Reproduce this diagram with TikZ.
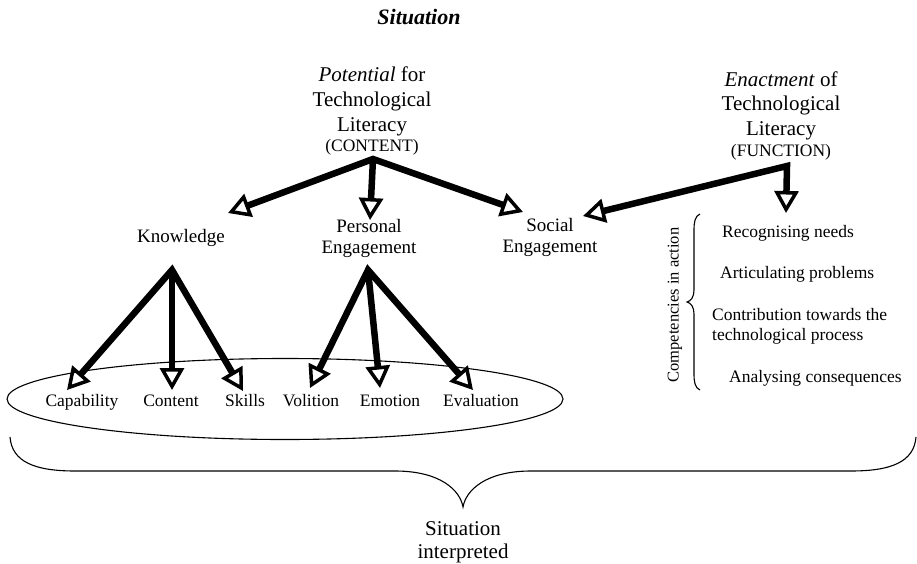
\documentclass[tikz,border=0pt]{standalone}
\usepackage{fontspec}
\setmainfont{Liberation Serif}
\usetikzlibrary{arrows.meta}
\begin{document}
\begin{tikzpicture}[x=1pt,y=-1pt,
  tipA/.tip={Triangle[open,length=22pt,width=24pt,line width=3.5pt]},
  bigarrow/.style={line width=6.5pt,line join=miter,-tipA},
  dblarrow/.style={line width=6.5pt,line join=miter,tipA-tipA},
  lab/.style={anchor=base,inner sep=0pt},
  fbig/.style={font=\fontsize{21}{25}\selectfont},
  fmid/.style={font=\fontsize{19}{23}\selectfont},
  fsml/.style={font=\fontsize{17.5}{21}\selectfont},
  thinline/.style={line width=1.1pt}]
\useasboundingbox (0,0) rectangle (917,564);

% title
\node[lab,font=\fontsize{22}{26}\selectfont\bfseries\itshape] (title) at (419,25) {Situation};

% Potential block
\node[lab,fbig] (pot1) at (372,82) {\textit{Potential} for};
\node[lab,fbig] (pot2) at (372,107) {Technological};
\node[lab,fbig] (pot3) at (372,132) {Literacy};
\node[lab,fsml] (pot4) at (372,152) {(CONTENT)};

% Enactment block
\node[lab,fbig] (ena1) at (781,87) {\textit{Enactment} of};
\node[lab,fbig] (ena2) at (781,111) {Technological};
\node[lab,fbig] (ena3) at (781,136) {Literacy};
\node[lab,fsml] (ena4) at (781,157) {(FUNCTION)};

% middle labels
\node[lab,fmid] (know) at (181,242) {Knowledge};
\node[lab,fmid] (pers1) at (369,232) {Personal};
\node[lab,fmid] (pers2) at (369,253) {Engagement};
\node[lab,fmid] (soc1) at (550,231) {Social};
\node[lab,fmid] (soc2) at (550,252) {Engagement};

% bottom labels
\node[lab,fsml] (cap) at (82,406) {Capability};
\node[lab,fsml] (con) at (171,406) {Content};
\node[lab,fsml] (ski) at (245,406) {Skills};
\node[lab,fsml] (vol) at (311,406) {Volition};
\node[lab,fsml] (emo) at (390,406) {Emotion};
\node[lab,fsml] (eva) at (481,406) {Evaluation};

% competencies
\node[lab,fsml,anchor=base west] (c1) at (722,237) {Recognising needs};
\node[lab,fsml,anchor=base west] (c2) at (720,278) {Articulating problems};
\node[lab,fsml,anchor=base west] (c3a) at (712,320) {Contribution towards the};
\node[lab,fsml,anchor=base west] (c3b) at (712,340) {technological process};
\node[lab,fsml,anchor=base west] (c4) at (729,382) {Analysing consequences};
\node[inner sep=0pt,rotate=90,font=\fontsize{16.5}{20}\selectfont] (comp) at (675,305) {Competencies in action};

% situation interpreted
\node[lab,fbig] (sit1) at (463,535) {Situation};
\node[lab,fbig] (sit2) at (463,558) {interpreted};

% arrow coordinates
\coordinate (potA) at (373,159);
\coordinate (kT) at (228,213);
\coordinate (peT) at (370,220);
\coordinate (soT) at (523,212);
\coordinate (enA) at (787,166);
\coordinate (so2T) at (583,216);
\coordinate (enT) at (786,213);
\coordinate (kA) at (172,270);
\coordinate (capT) at (67,390);
\coordinate (conT) at (172,390);
\coordinate (skT) at (243,391);
\coordinate (pA) at (368,270);
\coordinate (volT) at (310,388);
\coordinate (emoT) at (380,388);
\coordinate (evT) at (473,390);

% arrows
\draw[dblarrow] (kT) -- (potA) -- (soT);
\draw[bigarrow] (potA) -- (peT);
\draw[dblarrow] (so2T) -- (enA) -- (enT);
\draw[dblarrow] (capT) -- (kA) -- (skT);
\draw[bigarrow] (kA) -- (conT);
\draw[dblarrow] (volT) -- (pA) -- (evT);
\draw[bigarrow] (pA) -- (emoT);

% ellipse
\draw[thinline] (285,399) ellipse [x radius=278pt, y radius=40.5pt];

% competencies brace
\draw[thinline] (700,214) .. controls (695,216) and (694,222) .. (694,230) -- (694,290)
  .. controls (694,297) and (691,301) .. (687,302)
  .. controls (691,303) and (694,307) .. (694,314) -- (694,374)
  .. controls (694,382) and (695,388) .. (700,390);

% bottom brace
\draw[thinline] (10,437) .. controls (12,462) and (35,471) .. (75,471) -- (395,471)
  .. controls (440,471) and (460,490) .. (463,507)
  .. controls (466,490) and (486,471) .. (531,471) -- (851,471)
  .. controls (891,471) and (914,462) .. (916,437);
\end{tikzpicture}
\end{document}
